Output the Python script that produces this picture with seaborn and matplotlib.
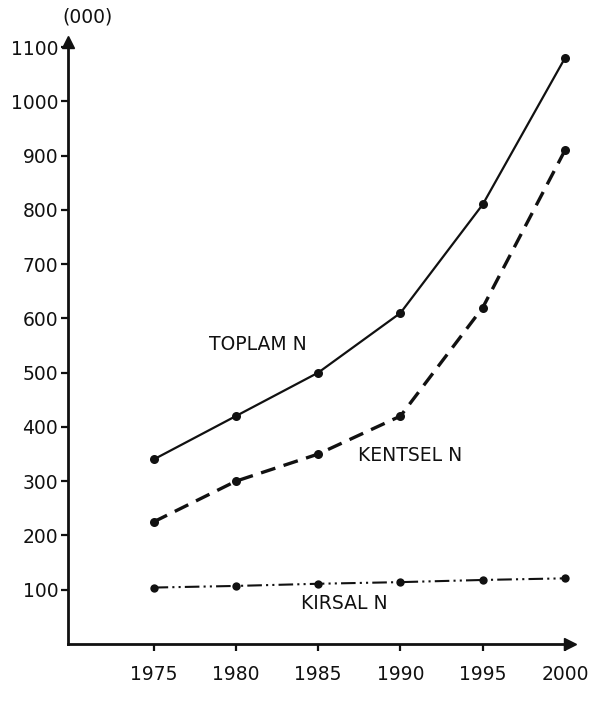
import matplotlib
matplotlib.use("Agg")
import matplotlib.pyplot as plt
import seaborn as sns
import pandas as pd

# Population figures (thousands)
years = [1975, 1980, 1985, 1990, 1995, 2000]
toplam = [340, 420, 500, 610, 810, 1080]
kentsel = [225, 300, 350, 420, 620, 910]
kirsal = [104, 107, 111, 114, 118, 121]
y_ticks = [100, 200, 300, 400, 500, 600, 700, 800, 900, 1000, 1100]

sns.set_theme(style="white")
plt.rcParams["font.family"] = ["DejaVu Sans"]

df = pd.DataFrame({"yil": years, "toplam": toplam, "kentsel": kentsel, "kirsal": kirsal})

fig = plt.figure(figsize=(5.97, 7.02), dpi=100)
ax = fig.add_axes([68 / 597, 1 - 644 / 702, 502 / 597, (644 - 41.6) / 702])

ink = "#111111"
sns.lineplot(data=df, x="yil", y="toplam", ax=ax, color=ink, lw=1.6,
             marker="o", markersize=6.5, markeredgewidth=0)
sns.lineplot(data=df, x="yil", y="kentsel", ax=ax, color=ink, lw=2.4,
             marker="o", markersize=6.5, markeredgewidth=0)
ax.lines[-1].set_dashes((4.5, 2.6))
sns.lineplot(data=df, x="yil", y="kirsal", ax=ax, color=ink, lw=1.5,
             marker="o", markersize=6, markeredgewidth=0)
ax.lines[-1].set_dashes((7, 2, 1, 2, 1, 2))

ax.set_xlim(1969.8, 2000.3)
ax.set_ylim(0, 1110)
ax.set_xticks(years)
ax.set_yticks(y_ticks)
ax.set_xticklabels([str(y) for y in years], fontsize=13.5)
ax.set_yticklabels([str(v) for v in y_ticks], fontsize=13.5)
ax.set_xlabel("")
ax.set_ylabel("")

for side in ("top", "right"):
    ax.spines[side].set_visible(False)
for side in ("left", "bottom"):
    ax.spines[side].set_color(ink)
    ax.spines[side].set_linewidth(2.0)
ax.tick_params(axis="both", direction="out", length=5, width=1.6, color=ink,
               labelcolor=ink, left=True, bottom=True)
ax.tick_params(axis="x", pad=10)
ax.tick_params(axis="y", pad=2)

# axis arrows
ax.plot(0, 1, "^", color=ink, markersize=8, transform=ax.transAxes, clip_on=False)
ax.plot(1, 0, ">", color=ink, markersize=8, transform=ax.transAxes, clip_on=False)

fig.text(88 / 597, 1 - 17 / 702, "(000)", fontsize=13.5, color=ink,
         ha="center", va="center")

ax.text(1981.35, 551, "TOPLAM N", fontsize=13.5, color=ink, ha="center", va="center")
ax.text(1990.6, 348, "KENTSEL N", fontsize=13.5, color=ink, ha="center", va="center")
ax.text(1986.6, 75, "KIRSAL N", fontsize=13.5, color=ink, ha="center", va="center")

fig.savefig("out.png", dpi=100, facecolor="white")
